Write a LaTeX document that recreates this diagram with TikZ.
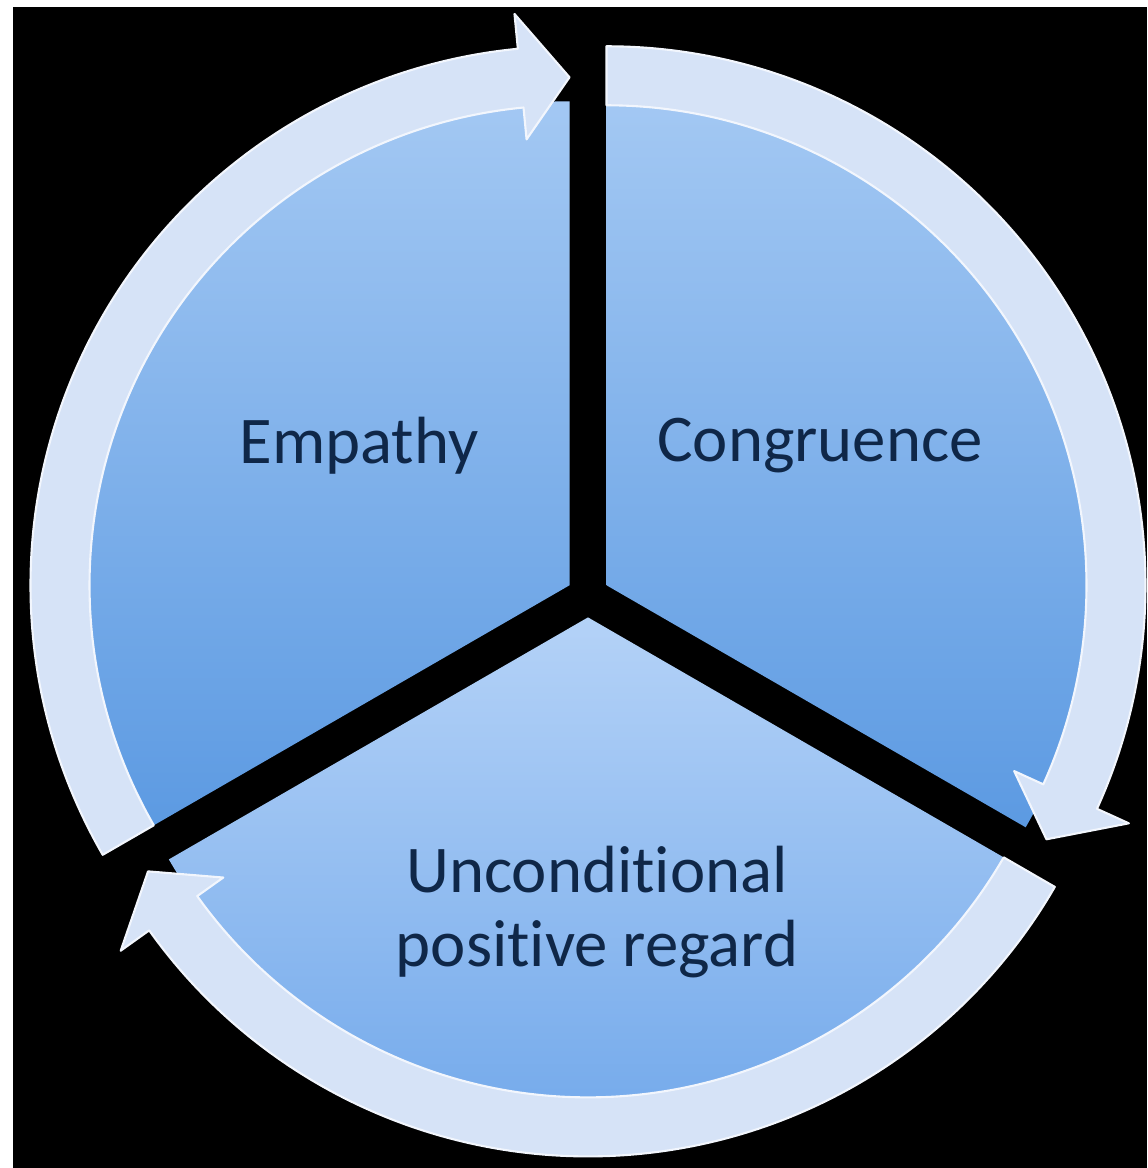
\documentclass[tikz,border=0pt]{standalone}
\usepackage{fontspec}
\setmainfont{Carlito}[Ligatures=NoCommon]
\definecolor{bandfill}{HTML}{D6E3F7}
\definecolor{bandedge}{HTML}{F2F6FD}
\definecolor{bandshade}{HTML}{9AB2D6}
\definecolor{pietop}{HTML}{A3C8F3}
\definecolor{piebot}{HTML}{5C9AE2}
\definecolor{pietoplight}{HTML}{B4D2F7}
\definecolor{piebotlight}{HTML}{6EA6EA}
\definecolor{labeltext}{HTML}{0F2748}

\begin{document}
\begin{tikzpicture}[x=0.02cm, y=0.02cm,
    piece/.style={top color=pietop, bottom color=piebot, draw=none},
    band/.style={fill=bandfill, draw=bandedge, line width=1.2pt, line join=round},
    innerrim/.style={draw=bandshade, line width=1.6pt},
    lab/.style={text=labeltext, font=\fontsize{38}{42}\selectfont, align=center}]
  \useasboundingbox (0,0) rectangle (1147,1168);
  \fill[white] (0,0) rectangle (1147,1168);
  \fill[black] (13,0) rectangle (1147,1161);

  % Empathy segment
  \begin{scope}[shift={(569.5,582.7)}]
    \fill[piece] (0,0) -- (210:484) arc[start angle=210, end angle=90, radius=484] -- cycle;
    \draw[innerrim] (95.5:481) arc[start angle=95.5, end angle=210, radius=481];
    \filldraw[band] (210:480) -- (210:539) arc[start angle=210, end angle=95.5, radius=539]
      -- (95.5:574) -- (90:508) -- (95.5:448) -- (95.5:480)
      arc[start angle=95.5, end angle=210, radius=480] -- cycle;
  \end{scope}

  % Congruence segment
  \begin{scope}[shift={(606.5,582.7)}]
    \fill[piece] (0,0) -- (90:484) arc[start angle=90, end angle=-30, radius=484] -- cycle;
    \draw[innerrim] (-24.5:481) arc[start angle=-24.5, end angle=90, radius=481];
    \filldraw[band] (90:480) -- (90:539) arc[start angle=90, end angle=-24.5, radius=539]
      -- (-24.5:574) -- (-30:508) -- (-24.5:448) -- (-24.5:480)
      arc[start angle=-24.5, end angle=90, radius=480] -- cycle;
  \end{scope}

  % Unconditional positive regard segment
  \begin{scope}[shift={(588,550.6)}]
    \fill[piece, top color=pietoplight, bottom color=piebotlight] (0,0) -- (-30:484)
      arc[start angle=-30, end angle=-150, radius=484] -- cycle;
    \draw[innerrim] (-144.5:481) arc[start angle=-144.5, end angle=-30, radius=481];
    \filldraw[band] (-30:480) -- (-30:539) arc[start angle=-30, end angle=-144.5, radius=539]
      -- (-144.5:574) -- (-150:508) -- (-144.5:448) -- (-144.5:480)
      arc[start angle=-144.5, end angle=-30, radius=480] -- cycle;
  \end{scope}

  \node[lab] (emp) at (359,722) {Empathy};
  \node[lab] (cong) at (820,722) {Congruence};
  \node[lab] (ucpr) at (597,256) {Unconditional\\positive regard};
\end{tikzpicture}
\end{document}
